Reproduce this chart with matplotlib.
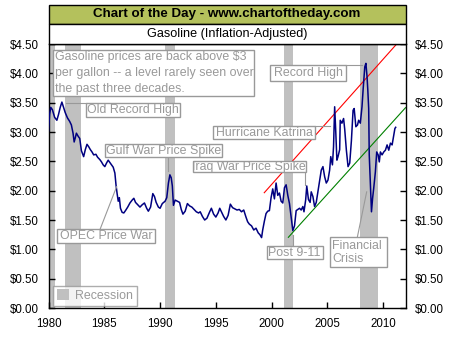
import numpy as np
import matplotlib
matplotlib.use('Agg')
import matplotlib.pyplot as plt
from matplotlib.patches import Rectangle
from matplotlib.ticker import FuncFormatter

plt.rcParams['font.family'] = ['Liberation Sans', 'DejaVu Sans']

# inflation-adjusted gasoline price
years = [1980.0, 1980.1, 1980.2, 1980.35, 1980.55, 1980.75, 1980.9, 1981.05, 1981.2, 1981.35,
         1981.5, 1981.7, 1981.9, 1982.05, 1982.2, 1982.3, 1982.4, 1982.5, 1982.65, 1982.8,
         1982.95, 1983.15, 1983.3, 1983.45, 1983.6, 1983.75, 1983.9, 1984.05, 1984.25, 1984.4,
         1984.6, 1984.75, 1984.9, 1985.05, 1985.2, 1985.35, 1985.5, 1985.65, 1985.8, 1985.95,
         1986.05, 1986.15, 1986.25, 1986.35, 1986.45, 1986.6, 1986.75, 1986.9, 1987.1, 1987.3,
         1987.5, 1987.65, 1987.8, 1988.0, 1988.2, 1988.4, 1988.6, 1988.8, 1988.95, 1989.15,
         1989.35, 1989.5, 1989.65, 1989.85, 1990.0, 1990.2, 1990.45, 1990.6, 1990.75, 1990.88,
         1991.0, 1991.1, 1991.2, 1991.35, 1991.55, 1991.75, 1991.9, 1992.05, 1992.25, 1992.45,
         1992.65, 1992.85, 1993.05, 1993.25, 1993.45, 1993.6, 1993.8, 1994.0, 1994.2, 1994.45,
         1994.6, 1994.8, 1995.0, 1995.2, 1995.35, 1995.55, 1995.7, 1995.9, 1996.1, 1996.3,
         1996.5, 1996.7, 1996.9, 1997.1, 1997.3, 1997.5, 1997.7, 1997.85, 1998.0, 1998.2,
         1998.4, 1998.6, 1998.8, 1998.95, 1999.1, 1999.2, 1999.35, 1999.5, 1999.65, 1999.8,
         1999.95, 2000.1, 2000.25, 2000.4, 2000.55, 2000.7, 2000.85, 2001.0, 2001.15, 2001.3,
         2001.45, 2001.6, 2001.75, 2001.9, 2002.05, 2002.2, 2002.35, 2002.5, 2002.65, 2002.8,
         2002.9, 2003.05, 2003.15, 2003.3, 2003.45, 2003.55, 2003.7, 2003.85, 2004.0, 2004.15,
         2004.3, 2004.45, 2004.6, 2004.75, 2004.9, 2005.05, 2005.2, 2005.3, 2005.45, 2005.55,
         2005.65, 2005.75, 2005.85, 2005.95, 2006.1, 2006.15, 2006.3, 2006.45, 2006.55, 2006.7,
         2006.85, 2007.0, 2007.15, 2007.3, 2007.4, 2007.55, 2007.7, 2007.8, 2007.95, 2008.1,
         2008.2, 2008.35, 2008.45, 2008.55, 2008.62, 2008.7, 2008.75, 2008.85, 2008.95, 2009.05,
         2009.15, 2009.3, 2009.42, 2009.55, 2009.65, 2009.75, 2009.9, 2010.05, 2010.2, 2010.35,
         2010.5, 2010.65, 2010.8, 2010.95, 2011.05, 2011.12]
prices = [3.02, 3.30, 3.42, 3.38, 3.25, 3.20, 3.30, 3.42, 3.51, 3.42,
          3.33, 3.24, 3.18, 3.12, 2.98, 2.83, 2.90, 2.98, 2.93, 2.89,
          2.68, 2.58, 2.70, 2.79, 2.75, 2.70, 2.66, 2.61, 2.62, 2.57,
          2.53, 2.49, 2.44, 2.41, 2.47, 2.52, 2.48, 2.44, 2.40, 2.30,
          2.10, 1.95, 1.82, 1.88, 1.70, 1.63, 1.62, 1.66, 1.72, 1.79,
          1.84, 1.87, 1.80, 1.76, 1.72, 1.76, 1.79, 1.70, 1.65, 1.72,
          1.95, 1.90, 1.80, 1.72, 1.70, 1.78, 1.82, 1.88, 2.13, 2.27,
          2.22, 2.08, 1.75, 1.84, 1.82, 1.80, 1.68, 1.60, 1.65, 1.78,
          1.74, 1.72, 1.68, 1.64, 1.62, 1.64, 1.56, 1.50, 1.53, 1.64,
          1.70, 1.60, 1.55, 1.62, 1.70, 1.62, 1.56, 1.50, 1.58, 1.77,
          1.71, 1.69, 1.67, 1.68, 1.64, 1.67, 1.55, 1.47, 1.43, 1.40,
          1.33, 1.36, 1.28, 1.25, 1.20, 1.33, 1.48, 1.61, 1.65, 1.66,
          1.88, 2.03, 1.86, 2.13, 1.92, 1.96, 1.82, 1.79, 2.05, 2.10,
          1.92, 1.78, 1.55, 1.32, 1.40, 1.66, 1.68, 1.70, 1.67, 1.73,
          1.64, 1.84, 2.08, 1.85, 1.80, 1.98, 1.90, 1.73, 1.80, 1.98,
          2.15, 2.35, 2.41, 2.24, 2.13, 2.18, 2.35, 2.58, 2.44, 2.75,
          3.43, 3.00, 2.52, 2.58, 2.70, 3.20, 3.15, 3.23, 3.05, 2.69,
          2.41, 2.47, 2.85, 3.37, 3.40, 3.09, 3.12, 3.20, 3.15, 3.43,
          3.72, 4.11, 4.17, 3.95, 3.72, 3.40, 2.61, 2.10, 1.64, 1.87,
          2.04, 2.32, 2.66, 2.61, 2.49, 2.66, 2.61, 2.66, 2.69, 2.78,
          2.69, 2.81, 2.78, 2.95, 3.06, 3.08]

recession_start = [1980.05, 1981.45, 1990.45, 2001.1, 2007.9]
recession_end = [1980.6, 1982.95, 1991.3, 2001.95, 2009.55]

# parallel trend channels
red_x = [1999.34, 2011.21]
red_y = [1.965, 4.50]
green_x = [2001.5, 2012.0]
green_y = [1.205, 3.414]

GRAY = '#999999'
FS = 8.9

fig = plt.figure(figsize=(4.54, 3.40), dpi=100)
W, H = 454.0, 340.0
L, R, T, B = 48.5, 405.5, 44.0, 308.0
ax = fig.add_axes([L / W, 1 - B / H, (R - L) / W, (B - T) / H])

# header bands
fig.add_artist(Rectangle((L / W, 1 - 24 / H), (R - L) / W, 19 / H, transform=fig.transFigure,
                         facecolor='#b4c15c', edgecolor='black', lw=1))
fig.add_artist(Rectangle((L / W, 1 - T / H), (R - L) / W, 20 / H, transform=fig.transFigure,
                         facecolor='white', edgecolor='black', lw=1))
fig.text((L + R) / 2 / W, 1 - 14.5 / H, 'Chart of the Day - www.chartoftheday.com',
         ha='center', va='center', fontsize=9.6, fontweight='bold')
fig.text((L + R) / 2 / W, 1 - 34 / H, 'Gasoline (Inflation-Adjusted)',
         ha='center', va='center', fontsize=9.1)

for i, (s, e) in enumerate(zip(recession_start, recession_end)):
    ax.axvspan(s, e, color='#c0c0c0', lw=0, zorder=1,
               label='Recession' if i == 0 else None)

ax.plot(red_x, red_y, color='red', lw=0.8, zorder=2)
ax.plot(green_x, green_y, color='green', lw=0.8, zorder=2)
ax.plot(years, prices, color='#000080', lw=1.1, zorder=3)

# leader lines
leaders = [
    ([1981.57, 1983.36], [3.50, 3.50]),
    ([1990.74, 1990.74], [2.57, 2.34]),
    ([2002.99, 2002.99], [2.31, 2.10]),
    ([2003.89, 2005.2], [3.10, 3.10]),
    ([2006.67, 2008.07], [4.14, 4.14]),
    ([1984.62, 1986.11], [1.34, 2.07]),
    ([2001.89, 2001.89], [1.057, 1.244]),
    ([2007.68, 2008.52], [1.205, 1.98]),
]
for lx, ly in leaders:
    ax.plot(lx, ly, color=GRAY, lw=0.8, zorder=4)

# annotation boxes: (x0, x1, y0, y1, text, text_x, ha)
boxes = [
    (1980.43, 1998.42, 3.62, 4.40, None, None, 'left'),
    (1983.36, 1991.79, 3.25, 3.49, 'Old Record High', 1987.57, 'center'),
    (1985.06, 1995.52, 2.57, 2.795, 'Gulf War Price Spike', 1990.29, 'center'),
    (1992.93, 2003.08, 2.31, 2.51, 'Iraq War Price Spike', 1998.0, 'center'),
    (1994.77, 2003.89, 2.875, 3.10, 'Hurricane Katrina', 1999.33, 'center'),
    (1999.85, 2006.67, 3.87, 4.14, 'Record High', 2003.26, 'center'),
    (1980.73, 1989.55, 1.10, 1.34, 'OPEC Price War', 1985.14, 'center'),
    (1999.56, 2004.58, 0.83, 1.057, 'Post 9-11', 2002.07, 'center'),
    (2005.23, 2010.32, 0.694, 1.205, 'Financial\nCrisis', 2005.45, 'left'),
]
for x0, x1, y0, y1, txt, tx, ha in boxes:
    ax.add_patch(Rectangle((x0, y0), x1 - x0, y1 - y0, facecolor='white',
                           edgecolor=GRAY, lw=1, zorder=5))
    if txt:
        ax.text(tx, (y0 + y1) / 2, txt, ha=ha, va='center', color=GRAY,
                fontsize=FS, zorder=6, linespacing=1.1)

note = ['Gasoline prices are back above $3', 'per gallon -- a level rarely seen over',
        'the past three decades.']
for k, line in enumerate(note):
    ax.text(1980.62, 4.28 - k * 0.272, line, ha='left', va='center', color=GRAY,
            fontsize=FS, zorder=6)

leg = ax.legend(loc='lower left', bbox_to_anchor=(0.013, 0.008), frameon=True, fancybox=False,
                edgecolor=GRAY, fontsize=FS, labelcolor=GRAY, handlelength=1.0,
                handleheight=1.0, handletextpad=0.5, borderpad=0.3, borderaxespad=0)
leg.get_frame().set_linewidth(1)
leg.set_zorder(7)

ax.set_xlim(1980, 2012)
ax.set_ylim(0, 4.5)
ax.set_xticks([1980, 1985, 1990, 1995, 2000, 2005, 2010])
ax.set_yticks(np.arange(0, 4.51, 0.5))
ax.yaxis.set_major_formatter(FuncFormatter(lambda v, p: f'${v:.2f}'))
ax.tick_params(direction='in', length=4, width=1, labelsize=8.3, pad=7,
               left=True, right=True, labelleft=True, labelright=True, top=False)
for sp in ax.spines.values():
    sp.set_linewidth(1)
    sp.set_color('black')

fig.savefig('out.png', dpi=100)
